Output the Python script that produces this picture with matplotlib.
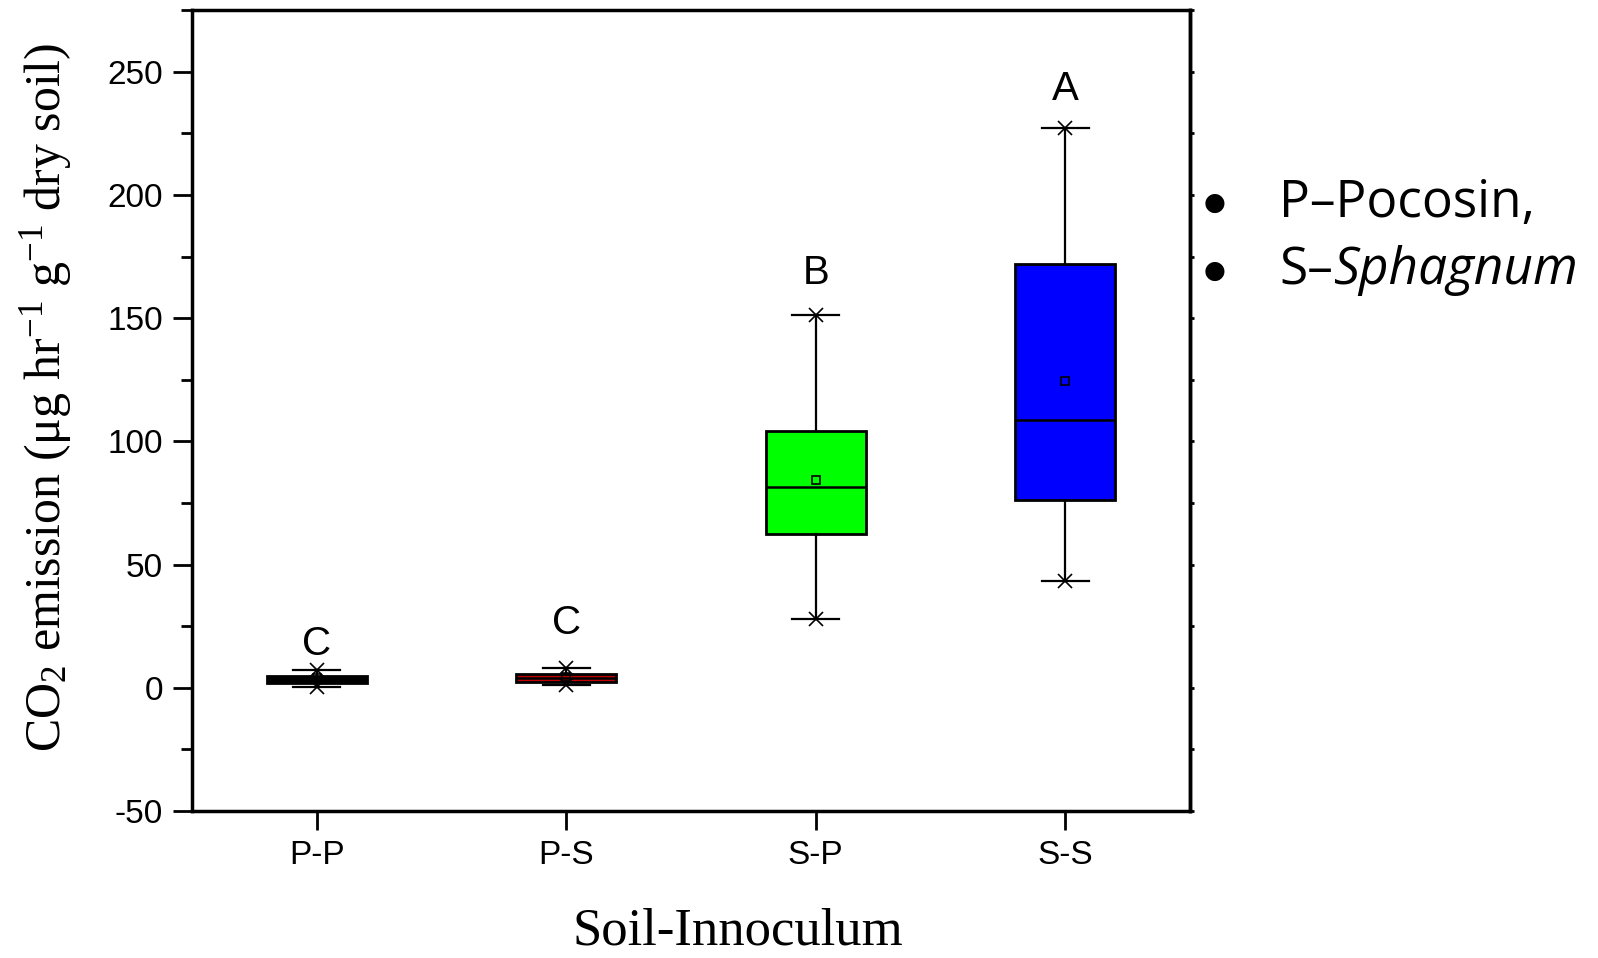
import matplotlib
matplotlib.use("Agg")
import matplotlib.pyplot as plt
from matplotlib.ticker import MultipleLocator

# data
groups = ["P-P", "P-S", "S-P", "S-S"]
whislo = [0.5, 1.2, 28.0, 43.5]
q1 = [2.0, 2.4, 62.3, 76.3]
med = [3.5, 4.0, 81.3, 108.5]
q3 = [4.9, 5.7, 104.3, 171.8]
whishi = [7.3, 8.2, 151.3, 227.0]
means = [4.0, 4.3, 84.5, 124.5]
letters = ["C", "C", "B", "A"]
letter_y = [17.8, 26.4, 168.5, 243.0]
colors = ["#000000", "#c00000", "#00ff00", "#0000ff"]

plt.rcParams["mathtext.fontset"] = "custom"
plt.rcParams["mathtext.rm"] = "Liberation Serif"
plt.rcParams["mathtext.it"] = "Liberation Serif:italic"
plt.rcParams["axes.unicode_minus"] = False

fig = plt.figure(figsize=(15.98, 9.58), dpi=100)
ax = fig.add_axes([0.1201, 0.1534, 0.6246, 0.836])

pos = [1, 2, 3, 4]
stats = []
for i in range(len(groups)):
    stats.append(dict(whislo=whislo[i], q1=q1[i], med=med[i], q3=q3[i],
                      whishi=whishi[i], mean=means[i], fliers=[]))

bp = ax.bxp(stats, positions=pos, widths=0.4, patch_artist=True,
            showmeans=True, showfliers=False, capwidths=0.19,
            boxprops=dict(linewidth=2, edgecolor="black"),
            whiskerprops=dict(linewidth=1.6, color="black"),
            capprops=dict(linewidth=1.6, color="black"),
            medianprops=dict(linewidth=1.8, color="black"),
            meanprops=dict(marker="s", markersize=6, markerfacecolor="none",
                           markeredgecolor="black", markeredgewidth=1.2),
            manage_ticks=False)
for patch, c in zip(bp["boxes"], colors):
    patch.set_facecolor(c)

# asterisk-like whisker ends
ax.plot(pos, whishi, "x", color="black", ms=10, mew=1.2, ls="none")
ax.plot(pos, whislo, "x", color="black", ms=10, mew=1.2, ls="none")

for x, y, t in zip(pos, letter_y, letters):
    ax.text(x, y, t, ha="center", va="center", fontsize=29,
            family="Liberation Sans")

ax.set_xlim(0.5, 4.5)
ax.set_ylim(-50, 275)
ax.set_xticks(pos)
ax.set_xticklabels(groups)
ax.yaxis.set_major_locator(MultipleLocator(50))
ax.yaxis.set_minor_locator(MultipleLocator(25))

for s in ax.spines.values():
    s.set_linewidth(2.5)

ax.tick_params(axis="both", which="major", direction="out", length=14,
               width=2, labelsize=24, pad=7)
ax.tick_params(axis="y", which="minor", direction="out", length=8, width=2)
for lab in ax.get_xticklabels() + ax.get_yticklabels():
    lab.set_family("Liberation Sans")

# tiny ticks on right spine
ax2 = ax.twinx()
ax2.set_ylim(ax.get_ylim())
ax2.yaxis.set_major_locator(MultipleLocator(25))
ax2.tick_params(axis="y", length=3, width=2, labelright=False)
ax2.spines["right"].set_linewidth(2.5)

ax.set_ylabel(r"CO$_{2}$ emission ($\mathrm{\mu}$g hr$^{-1}$ g$^{-1}$ dry soil)",
              fontsize=36, family="Liberation Serif", va="center")
ax.yaxis.set_label_coords(-0.146, 0.517)
ax.set_xlabel("Soil-Innoculum", fontsize=38, family="Liberation Serif",
              va="center")
ax.xaxis.set_label_coords(0.547, -0.151)

# legend-style notes on the right
bx = 1215 / 1598
tx = 1279 / 1598
y1 = 1 - 203 / 958
y2 = 1 - 271 / 958
for yy in (y1, y2):
    fig.text(bx, yy, "\u25cf", fontsize=18, ha="center", va="center",
             family="DejaVu Sans")
fig.text(tx, y1, "P\u2013Pocosin,", fontsize=37, va="center", family="Open Sans")
t = fig.text(tx, y2, "S\u2013", fontsize=37, va="center", family="Open Sans")
r = fig.canvas.get_renderer()
w = t.get_window_extent(renderer=r).width / fig.bbox.width
fig.text(tx + w, y2, "Sphagnum", fontsize=37, va="center",
         family="Open Sans", style="italic")

fig.savefig("out.png", dpi=100)
